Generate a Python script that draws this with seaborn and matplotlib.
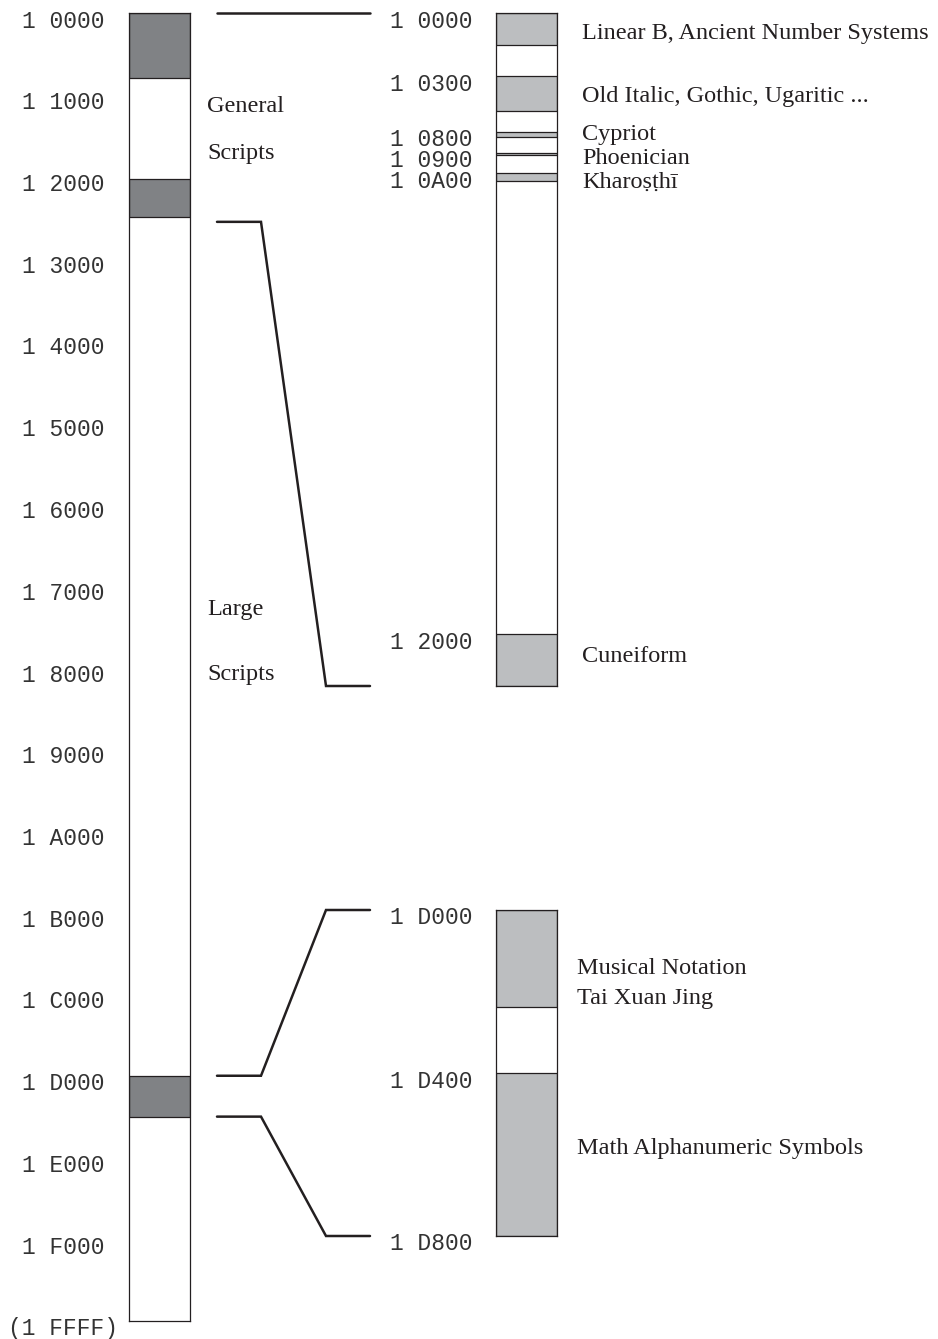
import numpy as np
import matplotlib
matplotlib.use("Agg")
import matplotlib.pyplot as plt
import matplotlib.transforms as mtransforms
from matplotlib.lines import Line2D
import seaborn as sns

# Style
sns.set_theme(style="white")
plt.rcParams['font.family'] = ['Liberation Serif', 'DejaVu Serif']

# ---- data (offsets inside plane 1, i.e. minus 0x10000) ----
plane_ticks = ['1 0000', '1 1000', '1 2000', '1 3000', '1 4000', '1 5000',
               '1 6000', '1 7000', '1 8000', '1 9000', '1 A000', '1 B000',
               '1 C000', '1 D000', '1 E000', '1 F000']
plane_last = '(1 FFFF)'
plane_band_start = [0x0000, 0x2080, 0xD000]
plane_band_end = [0x0CC0, 0x2800, 0xD800]
plane_area_names = ['General', 'Scripts', 'Large', 'Scripts']
plane_area_at = [0x11D0, 0x1B30, 0x7470, 0x8100]

smp_ticks = ['1 0000', '1 0300', '1 0800', '1 0900', '1 0A00', '1 2000']
smp_end = 0x2480
smp_block_start = [0x0000, 0x0300, 0x0800, 0x0900, 0x0A00, 0x2000]
smp_block_end = [0x0180, 0x0620, 0x0840, 0x0920, 0x0A60, 0x2480]
smp_names = ['Linear B, Ancient Number Systems', 'Old Italic, Gothic, Ugaritic ...',
             'Cypriot', 'Phoenician', 'Kharoṣṭhī', 'Cuneiform']
smp_name_at = [0x00E0, 0x04B0, 0x0808, 0x0938, 0x0A55, 0x21D0]

sym_ticks = ['1 D000', '1 D400', '1 D800']
sym_block_start = [0xD000, 0xD400]
sym_block_end = [0xD260, 0xD800]
sym_names = ['Musical Notation', 'Tai Xuan Jing', 'Math Alphanumeric Symbols']
sym_name_at = [0xD160, 0xD220, 0xD5D0]

# zoom links: point on the plane bar -> point on a detail bar
link_from = [0x0000, 0x28E0, 0xD000, 0xD800]
link_to = [('smp', 0x0000), ('smp', 0x2480), ('sym', 0xD000), ('sym', 0xD800)]


def cp(label):
    return int(label.strip('()').replace(' ', ''), 16) - 0x10000


# ---- layout ----
W, H = 938, 1339
ink = '#231f20'
dark = '#808285'
light = '#bcbec0'
mono = ['Liberation Mono', 'DejaVu Sans Mono']

fig = plt.figure(figsize=(W / 100, H / 100), dpi=100)
fig.patch.set_facecolor('white')


def bar_axes(x0, y0, x1, y1):
    ax = fig.add_axes([x0 / W, 1 - y1 / H, (x1 - x0) / W, (y1 - y0) / H])
    ax.set_facecolor('white')
    ax.set_xlim(0, 1)
    for s in ax.spines.values():
        s.set_visible(True)
        s.set_color(ink)
        s.set_linewidth(0.9)
    return ax


def no_ticks(ax):
    ax.set_xticks([])
    ax.set_yticks([])
    ax.minorticks_off()
    ax.tick_params(left=False, bottom=False, labelleft=False, labelbottom=False)


ax_plane = bar_axes(129, 13, 190, 1321)
ax_plane.set_ylim(0x10000, 0)

# the detail of the lower SMP is drawn schematically: piecewise-linear scale
knot_cp = [cp(t) for t in smp_ticks] + [smp_end]
knot_pos = [0, 63, 118.5, 139.5, 160, 621, 673]
ax_smp = bar_axes(496, 13, 557, 686)
ax_smp.set_yscale('function', functions=(lambda v: np.interp(v, knot_cp, knot_pos),
                                         lambda p: np.interp(p, knot_pos, knot_cp)))
ax_smp.set_ylim(smp_end, 0)

ax_sym = bar_axes(496, 910, 557, 1236)
ax_sym.set_ylim(cp(sym_ticks[-1]), cp(sym_ticks[0]))

for a in (ax_plane, ax_smp, ax_sym):
    no_ticks(a)


def blocks(ax, starts, ends, color):
    for s, e in zip(starts, ends):
        ax.bar(0, e - s, bottom=s, width=1, align='edge', color=color,
               edgecolor=ink, linewidth=0.9)


blocks(ax_plane, plane_band_start, plane_band_end, dark)
blocks(ax_smp, smp_block_start, smp_block_end, light)
blocks(ax_sym, sym_block_start, sym_block_end, light)


def ticks(ax, labels, dx=-24, dy=-8):
    tr = mtransforms.offset_copy(ax.get_yaxis_transform(), fig=fig, x=dx, y=dy, units='dots')
    for lab in labels:
        ax.text(0, cp(lab), lab, transform=tr, ha='right', va='center',
                family=mono, fontsize=16.5, color='#333333')


ticks(ax_plane, plane_ticks)
tr_last = mtransforms.offset_copy(ax_plane.get_yaxis_transform(), fig=fig, x=-11, y=-7, units='dots')
ax_plane.text(0, 0x10000, plane_last, transform=tr_last, ha='right', va='center',
              family=mono, fontsize=16.5, color='#333333')
ticks(ax_smp, smp_ticks)
ticks(ax_sym, sym_ticks)


def names(ax, labels, where, gap):
    tr = mtransforms.offset_copy(ax.get_yaxis_transform(), fig=fig, x=gap, y=-2, units='dots')
    for lab, v in zip(labels, where):
        ax.text(1, v, lab, transform=tr, ha='left', va='center', fontsize=17.5, color=ink)


names(ax_plane, plane_area_names, plane_area_at, 17)
names(ax_smp, smp_names, smp_name_at, 25)
names(ax_sym, sym_names, sym_name_at, 20)

# connector lines between the plane bar and the detail bars
detail = {'smp': ax_smp, 'sym': ax_sym}
to_fig = fig.transFigure.inverted()
for v0, (key, v1) in zip(link_from, link_to):
    p = ax_plane.get_yaxis_transform().transform((1, v0))
    q = detail[key].get_yaxis_transform().transform((0, v1))
    pts = np.array([[p[0] + 27, p[1]], [p[0] + 71, p[1]],
                    [q[0] - 170, q[1]], [q[0] - 126, q[1]]])
    pts = to_fig.transform(pts)
    fig.add_artist(Line2D(pts[:, 0], pts[:, 1], transform=fig.transFigure,
                          color=ink, linewidth=1.8, solid_joinstyle='miter'))

fig.savefig('out.png', dpi=100, facecolor='white')
